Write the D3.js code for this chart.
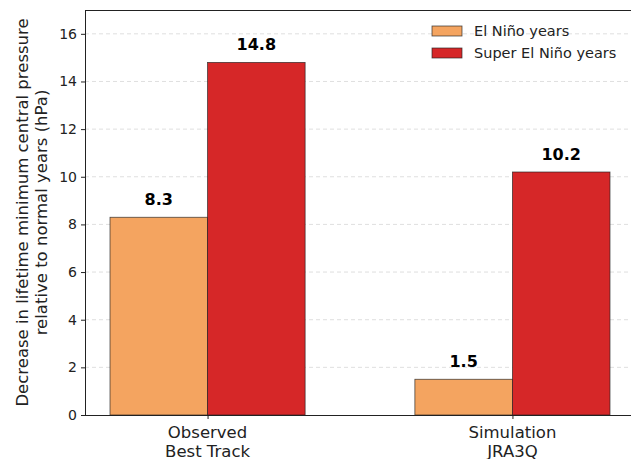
<!DOCTYPE html>
<html>
<head>
<meta charset="utf-8">
<script src="https://cdn.jsdelivr.net/npm/d3@7"></script>
<style>
  body { margin: 0; background: #fff; }
  svg { display: block; font-family: "DejaVu Sans", sans-serif; }
</style>
</head>
<body>
<svg id="chart" width="631" height="459"></svg>
<script>
// Data
const categories = ["Observed\nBest Track", "Simulation\nJRA3Q"];
const seriesNames = ["El Niño years", "Super El Niño years"];
const elNino = [8.3, 1.5];
const superElNino = [14.8, 10.2];
const yTicks = [0, 2, 4, 6, 8, 10, 12, 14, 16];
const colors = ["#f4a460", "#d62728"];

const svg = d3.select("#chart");
const margin = { left: 85, top: 10, right: 635, bottom: 415 };
const barW = 0.32;

const x = d3.scaleLinear().domain([-0.402, 1.402]).range([margin.left, margin.right]);
const y = d3.scaleLinear().domain([0, 17]).range([margin.bottom, margin.top]);

// Dashed horizontal grid
svg.append("g").selectAll("line").data(yTicks.filter(d => d > 0)).join("line")
  .attr("x1", margin.left).attr("x2", margin.right)
  .attr("y1", d => y(d)).attr("y2", d => y(d))
  .attr("stroke", "#b0b0b0").attr("stroke-opacity", 0.5)
  .attr("stroke-dasharray", "4,3").attr("stroke-width", 0.8);

// Grouped bars with value labels
const series = [elNino, superElNino];
series.forEach((vals, si) => {
  const offset = si === 0 ? -barW / 2 : barW / 2;
  const g = svg.append("g");
  g.selectAll("rect").data(vals).join("rect")
    .attr("x", (d, i) => x(i + offset - barW / 2))
    .attr("width", x(barW) - x(0))
    .attr("y", d => y(d))
    .attr("height", d => y(0) - y(d))
    .attr("fill", colors[si])
    .attr("stroke", "#222").attr("stroke-opacity", 0.8).attr("stroke-width", 0.8);
  g.selectAll("text").data(vals).join("text")
    .attr("x", (d, i) => x(i + offset))
    .attr("y", d => y(d) - 12)
    .attr("text-anchor", "middle")
    .attr("font-size", 16).attr("font-weight", "bold").attr("fill", "#000")
    .text(d => d.toFixed(1));
});

// Axes
const yAxis = d3.axisLeft(y).tickValues(yTicks).tickSize(4).tickPadding(4).tickFormat(d3.format("d"));
const gy = svg.append("g").attr("transform", `translate(${margin.left},0)`).call(yAxis);
gy.select(".domain").attr("d", `M0.5,${margin.bottom}V${margin.top}`);
gy.selectAll("text").attr("font-size", 14).attr("fill", "#222").attr("font-family", "DejaVu Sans");
gy.selectAll("line").attr("stroke", "#222");
gy.select(".domain").attr("stroke", "#222");

const xAxis = d3.axisBottom(x).tickValues([0, 1]).tickSize(4).tickFormat("");
const gx = svg.append("g").attr("transform", `translate(0,${margin.bottom})`).call(xAxis);
gx.selectAll("line").attr("stroke", "#222");
gx.select(".domain").attr("d", `M${margin.left},0.5H${margin.right}`).attr("stroke", "#222");

categories.forEach((c, i) => {
  const t = svg.append("text").attr("text-anchor", "middle")
    .attr("font-size", 16.5).attr("fill", "#222");
  c.split("\n").forEach((line, li) => {
    t.append("tspan").attr("x", x(i)).attr("y", 438 + li * 18.5).text(line);
  });
});

// Top spine
svg.append("line").attr("x1", margin.left).attr("x2", margin.right)
  .attr("y1", margin.top + 0.5).attr("y2", margin.top + 0.5).attr("stroke", "#222");

// Y axis title
const yl = svg.append("text").attr("transform", `translate(0,${(margin.top + margin.bottom) / 2}) rotate(-90)`)
  .attr("text-anchor", "middle").attr("font-size", 16.5).attr("fill", "#222");
yl.append("tspan").attr("x", 0).attr("y", 28).text("Decrease in lifetime minimum central pressure");
yl.append("tspan").attr("x", 0).attr("y", 47).text("relative to normal years (hPa)");

// Legend
const leg = svg.append("g");
seriesNames.forEach((n, i) => {
  leg.append("rect").attr("x", 432).attr("y", 26 + i * 22).attr("width", 30).attr("height", 10)
    .attr("fill", colors[i]).attr("stroke", "#222").attr("stroke-opacity", 0.8).attr("stroke-width", 0.8);
  leg.append("text").attr("x", 474).attr("y", 35.5 + i * 22).attr("font-size", 14.5).attr("fill", "#222").text(n);
});
</script>
</body>
</html>
